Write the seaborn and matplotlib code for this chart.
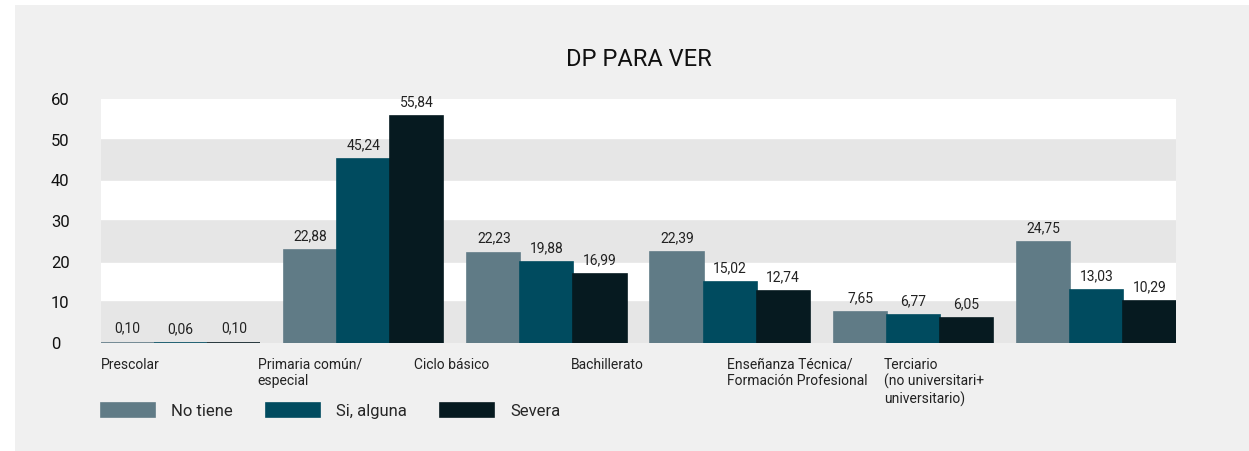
import matplotlib.pyplot as plt
import matplotlib.patches as mpatches
import matplotlib.transforms as mtransforms
import seaborn as sns
import pandas as pd

# --- datos
niveles = ["Prescolar", "Primaria común/\nespecial", "Ciclo básico", "Bachillerato",
           "Enseñanza Técnica/\nFormación Profesional",
           "Terciario\n(no universitari+\nuniversitario)"]
grados = ["No tiene", "Si, alguna", "Severa"]
no_tiene = [0.10, 22.88, 22.23, 22.39, 7.65, 24.75]
si_alguna = [0.06, 45.24, 19.88, 15.02, 6.77, 13.03]
severa = [0.10, 55.84, 16.99, 12.74, 6.05, 10.29]
colores = ["#607b86", "#004b5f", "#061a20"]
yticks = [0, 10, 20, 30, 40, 50, 60]

rows = []
for serie, vals in zip(grados, [no_tiene, si_alguna, severa]):
    for n, v in zip(niveles, vals):
        rows.append({"nivel": n, "grado": serie, "valor": v})
df = pd.DataFrame(rows)

sns.set_theme(style="white")
plt.rcParams['font.family'] = ['Roboto', 'DejaVu Sans']

fig = plt.figure(figsize=(12.49, 4.51), dpi=100, facecolor="white")
fig.patches.append(mpatches.Rectangle((15 / 1249, 0), 1, 1 - 5 / 451, transform=fig.transFigure,
                                      facecolor="#f0f0f0", edgecolor="none", zorder=-10))
ax = fig.add_axes([101 / 1249, 108 / 451, 1075 / 1249, 244 / 451])
ax.set_facecolor("white")

# bandas alternas
for i in range(len(yticks) - 1):
    if i % 2 == 0:
        ax.axhspan(yticks[i], yticks[i + 1], color="#e6e6e6", zorder=0, lw=0)

sns.barplot(data=df, x="nivel", y="valor", hue="grado", palette=colores, width=0.87,
            saturation=1, linewidth=0, ax=ax, zorder=2)

# borde del mismo color para que las barras casi nulas se vean
for p in ax.patches:
    p.set_edgecolor(p.get_facecolor())
    p.set_linewidth(1.2)

for cont in ax.containers:
    etiquetas = [f"{v:.2f}".replace(".", ",") for v in cont.datavalues]
    ax.bar_label(cont, labels=etiquetas, padding=5, fontsize=10, color="#222222")

ax.set_ylim(0, 60)
ax.set_xlim(-0.435, len(niveles) - 1 + 0.435)
ax.set_yticks(yticks)
ax.tick_params(axis="y", length=0, pad=36, labelsize=12, labelcolor="#111111")
for lab in ax.get_yticklabels():
    lab.set_horizontalalignment("left")
ax.set_xticks([])
ax.set_xlabel("")
ax.set_ylabel("")
for s in ax.spines.values():
    s.set_visible(False)

# etiquetas de categorías (desplazadas como en el original)
trans = mtransforms.blended_transform_factory(ax.transData, ax.transAxes)
for i, n in enumerate(niveles):
    ax.text(-0.435 + i * 0.855, -0.06, n, transform=trans, ha="left", va="top",
            fontsize=10, color="#222222", linespacing=1.2)

ax.set_title("DP PARA VER", fontsize=17, pad=24, color="#111111")

handles, labels = ax.get_legend_handles_labels()
ax.legend(handles, labels, loc="center left", bbox_to_anchor=(101 / 1249, 40 / 451),
          bbox_transform=fig.transFigure, ncol=3, frameon=False, fontsize=12,
          handlelength=3.25, handleheight=0.85, handletextpad=0.95, columnspacing=2.0,
          borderpad=0, borderaxespad=0)

fig.savefig("out.png", dpi=100, facecolor=fig.get_facecolor())
